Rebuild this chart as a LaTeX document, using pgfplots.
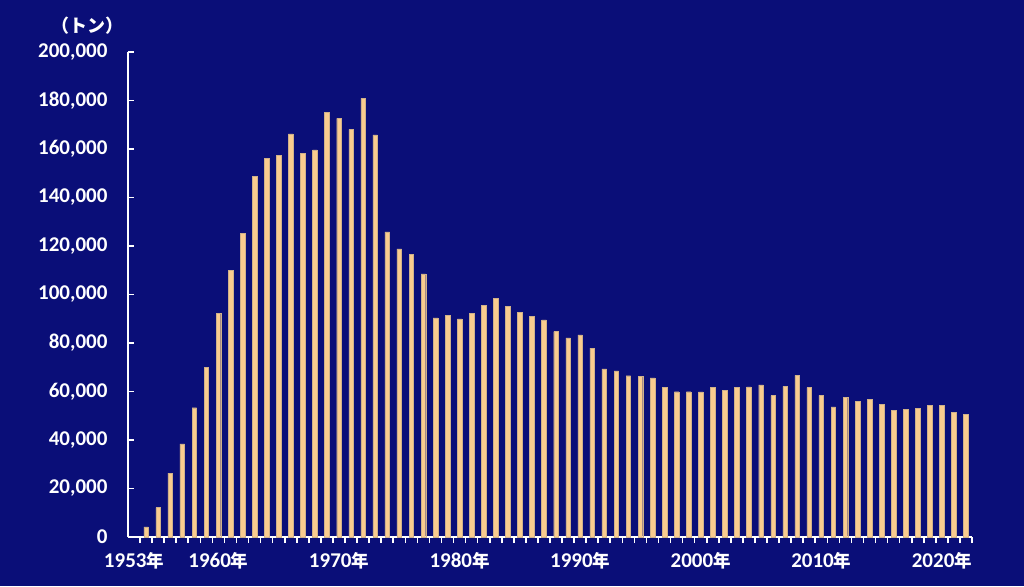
\documentclass[border=0pt]{standalone}
\usepackage{pgfplots}
\pgfplotsset{compat=1.18}
\usepackage{fontspec}
\setmainfont{Carlito}
\newfontfamily\cjk{Noto Sans CJK JP}
\definecolor{bgc}{RGB}{10,14,120}
\definecolor{barc}{RGB}{250,204,143}
\newcommand\nen{{\cjk\bfseries\fontsize{17.5}{20}\selectfont 年}}
\begin{document}
\begin{tikzpicture}[x=1pt,y=1pt]
\useasboundingbox (0,0) rectangle (1024,586);
\fill[bgc] (0,0) rectangle (1024,586);
\node[text=white,font={\cjk\bfseries\fontsize{18}{20}\selectfont}] at (87,560.5) {（トン）};
\begin{axis}[
  at={(128pt,49pt)}, anchor=south west,
  scale only axis, width=844pt, height=485pt,
  xmin=-0.5, xmax=69.5, ymin=0, ymax=200000,
  axis x line=bottom, axis y line=left,
  axis line style={white, line width=2pt, -},
  every axis x line/.append style={-}, every axis y line/.append style={-},
  tick align=inside,
  major tick length=6pt,
  tick style={white, line width=1.6pt},
  xtick={0.5,1.5,...,69.5}, xticklabels={},
  extra x ticks={0,7,17,27,37,47,57,67},
  extra x tick labels={1953\nen,1960\nen,1970\nen,1980\nen,1990\nen,2000\nen,2010\nen,2020\nen},
  extra x tick style={major tick length=0pt, tick style={draw=none}},
  ytick={0,20000,...,200000},
  scaled y ticks=false,
  /pgf/number format/.cd, fixed, 1000 sep={,}, assume math mode=true,
  /pgfplots/.cd,
  ticklabel style={text=white, font=\fontsize{21}{24}\selectfont\bfseries},
  yticklabel style={xshift=-17pt},
  xticklabel style={yshift=-12pt},
  ybar, bar width=4.6pt,
  clip=false,
]
\addplot[fill=barc, draw=barc!65!gray, line width=0.4pt] coordinates {
(1,4200) (2,12100) (3,26300) (4,38400) (5,53300) (6,70000) (7,92200) (8,110100) (9,125200) (10,148600)
(11,156000) (12,157400) (13,166200) (14,158200) (15,159600) (16,175100) (17,172600) (18,168100) (19,180900) (20,165800)
(21,125800) (22,118800) (23,116600) (24,108500) (25,90400) (26,91400) (27,89900) (28,92100) (29,95500) (30,98400)
(31,95100) (32,92700) (33,91000) (34,89500) (35,84700) (36,82100) (37,83300) (38,77900) (39,69300) (40,68500)
(41,66500) (42,66300) (43,65600) (44,61700) (45,59900) (46,59900) (47,59800) (48,61700) (49,60500) (50,61600)
(51,61900) (52,62700) (53,58300) (54,62100) (55,66700) (56,61600) (57,58400) (58,53700) (59,57600) (60,55800)
(61,56900) (62,54800) (63,52200) (64,52500) (65,53000) (66,54400) (67,54400) (68,51400) (69,50600)
};
\end{axis}
\end{tikzpicture}
\end{document}
